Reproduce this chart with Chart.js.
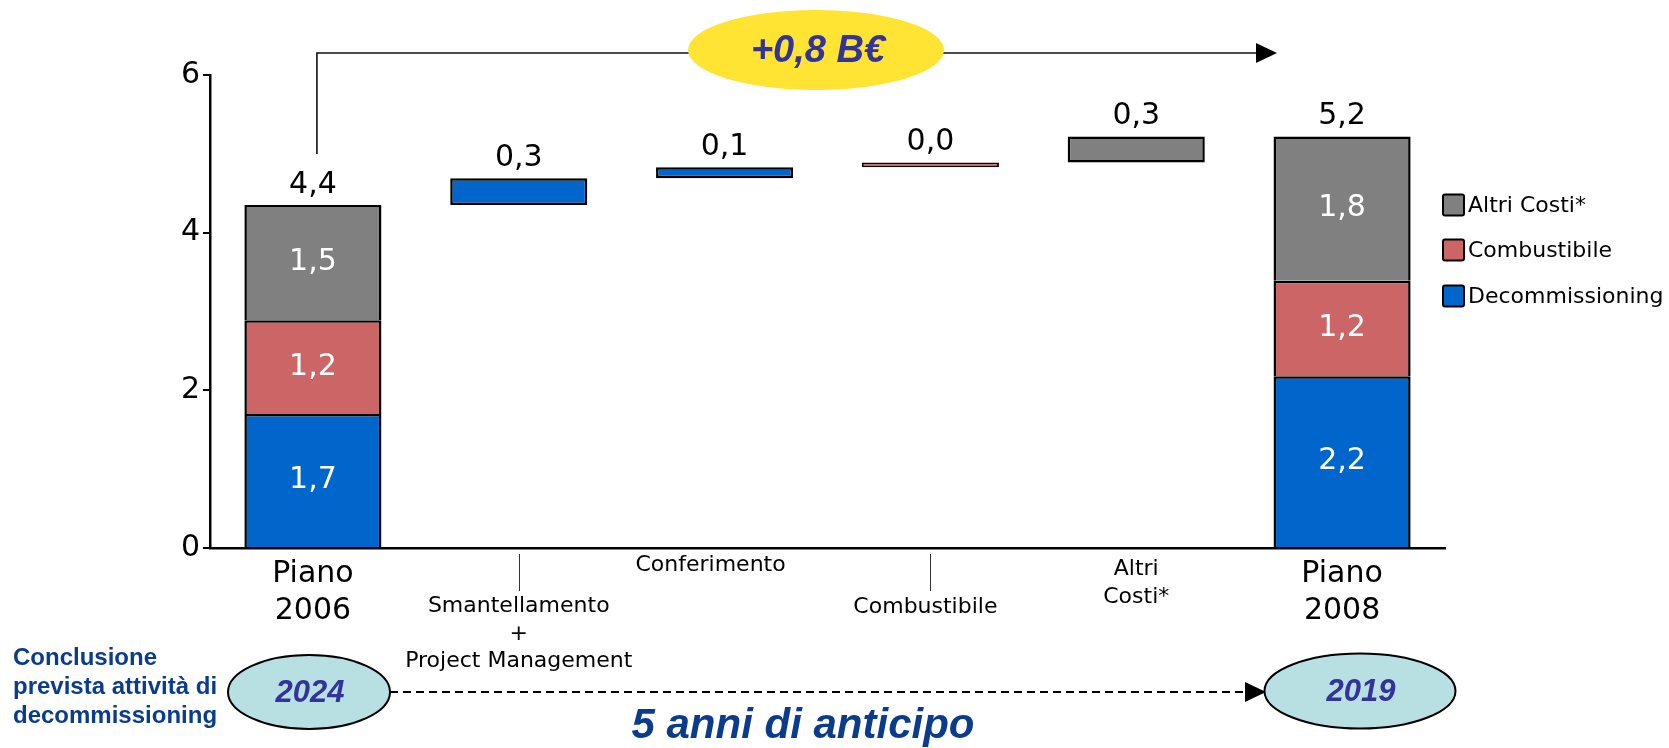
<!DOCTYPE html>
<html><head><meta charset="utf-8">
<script src="https://cdn.jsdelivr.net/npm/chart.js@4.4.0/dist/chart.umd.min.js"></script>
<style>html,body{margin:0;padding:0;background:#fff;}#wrap{width:1669px;height:748px;position:relative;}</style>
</head><body><div id="wrap"><canvas id="c" width="1669" height="748"></canvas></div>
<script>
// ---- data ----
const categories = [['Piano','2006'], ['Smantellamento','+','Project Management'], ['Conferimento'], ['Combustibile'], ['Altri','Costi*'], ['Piano','2008']];
const seriesNames = ['Decommissioning', 'Combustibile', 'Altri Costi*'];
const plan2006 = [1.70, 1.19, 1.46];          // Decommissioning, Combustibile, Altri Costi*
const plan2008 = [2.18, 1.21, 1.83];
const steps = [0.34, 0.14, 0.06, 0.33];       // waterfall deltas (categories 1..4)
const stepSeries = [0, 0, 1, 2];              // which series each delta belongs to
const totalLabels = ['4,4', '0,3', '0,1', '0,0', '0,3', '5,2'];
const segLabels2006 = ['1,7', '1,2', '1,5'];
const segLabels2008 = ['2,2', '1,2', '1,8'];
const yTicks = [0, 2, 4, 6];

const colors = ['#0066CC', '#CC6666', '#808080'];

// ---- build datasets ----
const n = categories.length;
const base = new Array(n).fill(null);
let run = plan2006.reduce((a, b) => a + b, 0);
const seriesData = seriesNames.map(() => new Array(n).fill(null));
seriesNames.forEach((s, k) => { seriesData[k][0] = plan2006[k]; seriesData[k][n - 1] = plan2008[k]; });
steps.forEach((v, j) => {
  base[j + 1] = run;
  seriesData[stepSeries[j]][j + 1] = v;
  run += v;
});
const isPlan = i => i === 0 || i === n - 1;

const datasets = [{
  label: 'base', data: base, backgroundColor: 'rgba(0,0,0,0)', borderWidth: 0, stack: 's'
}].concat(seriesNames.map((s, k) => ({
  label: s, data: seriesData[k], backgroundColor: colors[k], borderColor: '#000',
  borderWidth: ctx => (ctx.dataIndex === 3 ? 1.8 : 2.5), stack: 's',
  borderSkipped: ctx => isPlan(ctx.dataIndex) ? 'start' : false
})));

const FONT = '"DejaVu Sans", Verdana, sans-serif';
const ARIAL = '"Liberation Sans", Arial, sans-serif';

const annot = {
  id: 'annot',
  afterDatasetsDraw(chart) {
    const ctx = chart.ctx;
    ctx.save();
    ctx.textAlign = 'center'; ctx.textBaseline = 'middle';
    for (let i = 0; i < n; i++) {
      let top = Infinity, topX = 0;
      for (let d = 1; d <= 3; d++) {
        if (chart.data.datasets[d].data[i] == null) continue;
        const el = chart.getDatasetMeta(d).data[i];
        if (el.y < top) { top = el.y; topX = el.x; }
        if (isPlan(i)) {
          const lbl = (i === 0 ? segLabels2006 : segLabels2008)[d - 1];
          ctx.fillStyle = '#fff'; ctx.font = '30px ' + FONT;
          ctx.fillText(lbl, el.x, (el.y + el.base) / 2);
        }
      }
      ctx.fillStyle = '#000'; ctx.font = '30px ' + FONT;
      ctx.fillText(totalLabels[i], topX, top - 20);
    }
    ctx.restore();
  },
  afterDraw(chart) {
    const ctx = chart.ctx, xs = chart.scales.x;
    ctx.save();
    // category labels (staggered)
    const layout = [
      {f: 30, ys: [574, 611], dx: 0},
      {f: 22, ys: [606, 634, 661], dx: 0, tick: true},
      {f: 22, ys: [565], dx: -14},
      {f: 22, ys: [607], dx: -5, tick: true},
      {f: 22, ys: [569, 597], dx: 0},
      {f: 30, ys: [574, 611], dx: 0}
    ];
    ctx.textAlign = 'center'; ctx.textBaseline = 'middle'; ctx.fillStyle = '#000';
    categories.forEach((lines, i) => {
      const L = layout[i], x = xs.getPixelForValue(i);
      ctx.font = L.f + 'px ' + FONT;
      lines.forEach((t, k) => ctx.fillText(t, x + L.dx, L.ys[k]));
      if (L.tick) {
        ctx.strokeStyle = '#333'; ctx.lineWidth = 1;
        ctx.beginPath(); ctx.moveTo(Math.round(x) + 0.5, 554); ctx.lineTo(Math.round(x) + 0.5, 591); ctx.stroke();
      }
    });
    // legend
    const legY = [296, 250, 205];
    ctx.textAlign = 'left'; ctx.font = '22px ' + FONT;
    seriesNames.forEach((s, k) => {
      const y = legY[k];
      ctx.fillStyle = colors[k]; ctx.strokeStyle = '#000'; ctx.lineWidth = 2;
      ctx.beginPath(); ctx.roundRect(1443, y - 10.5, 21, 21, 2); ctx.fill(); ctx.stroke();
      ctx.fillStyle = '#000'; ctx.fillText(s, 1468, y + 1);
    });
    // top connector arrow
    const x0 = xs.getPixelForValue(0) + 4;
    ctx.strokeStyle = '#111'; ctx.lineWidth = 1.6; ctx.setLineDash([]);
    ctx.beginPath(); ctx.moveTo(x0, 154); ctx.lineTo(x0, 53); ctx.lineTo(1257, 53); ctx.stroke();
    ctx.fillStyle = '#000';
    ctx.beginPath(); ctx.moveTo(1256, 43); ctx.lineTo(1277, 53); ctx.lineTo(1256, 63); ctx.closePath(); ctx.fill();
    ctx.fillStyle = '#FFE433';
    ctx.beginPath(); ctx.ellipse(816, 50, 128, 40, 0, 0, Math.PI * 2); ctx.fill();
    ctx.fillStyle = '#333399'; ctx.font = 'italic bold 38px ' + ARIAL; ctx.textAlign = 'center'; ctx.textBaseline = 'middle';
    ctx.fillText('+0,8 B€', 818, 52);
    // bottom dashed arrow
    ctx.strokeStyle = '#000'; ctx.lineWidth = 2; ctx.setLineDash([8, 5]);
    ctx.beginPath(); ctx.moveTo(390, 692); ctx.lineTo(1246, 692); ctx.stroke();
    ctx.setLineDash([]);
    ctx.fillStyle = '#000';
    ctx.beginPath(); ctx.moveTo(1245, 682); ctx.lineTo(1266, 692); ctx.lineTo(1245, 702); ctx.closePath(); ctx.fill();
    // year ellipses
    [[309, 692, 81, 37, '2024'], [1360, 691, 95.5, 37.5, '2019']].forEach(([cx, cy, rx, ry, t]) => {
      ctx.fillStyle = '#B8E0E3'; ctx.strokeStyle = '#000'; ctx.lineWidth = 2;
      ctx.beginPath(); ctx.ellipse(cx, cy, rx, ry, 0, 0, Math.PI * 2); ctx.fill(); ctx.stroke();
      ctx.fillStyle = '#333399'; ctx.font = 'italic bold 31px ' + ARIAL; ctx.textAlign = 'center'; ctx.textBaseline = 'middle';
      ctx.fillText(t, cx + 1, cy + 1);
    });
    // left caption
    ctx.fillStyle = '#0B3C8C'; ctx.font = 'bold 24px ' + ARIAL; ctx.textAlign = 'left'; ctx.textBaseline = 'middle';
    ['Conclusione', 'prevista attività di', 'decommissioning'].forEach((t, k) => ctx.fillText(t, 13, 658 + k * 29));
    // bottom caption
    ctx.font = 'italic bold 42px ' + ARIAL; ctx.textAlign = 'center'; ctx.textBaseline = 'alphabetic';
    ctx.fillText('5 anni di anticipo', 803, 738);
    ctx.restore();
  }
};

new Chart(document.getElementById('c'), {
  type: 'bar',
  data: { labels: categories.map(c => c.join(' ')), datasets },
  options: {
    responsive: false, maintainAspectRatio: false, devicePixelRatio: 1, animation: false,
    layout: { padding: { left: 0, right: 224, top: 75, bottom: 0 } },
    plugins: { legend: { display: false }, tooltip: { enabled: false } },
    datasets: { bar: { categoryPercentage: 1, barPercentage: 0.666 } },
    scales: {
      x: {
        stacked: true,
        grid: { display: false },
        border: { display: true, color: '#000', width: 2.5 },
        ticks: { display: false },
        afterFit: s => { s.height = 200; }
      },
      y: {
        stacked: true, min: 0, max: 6,
        afterBuildTicks: s => { s.ticks = yTicks.map(v => ({ value: v })); },
        ticks: { color: '#000', font: { family: FONT, size: 30 }, padding: 3, stepSize: 2 },
        grid: { drawOnChartArea: false, drawTicks: true, tickLength: 7, color: '#000', lineWidth: 2 },
        border: { display: true, color: '#000', width: 2.5 },
        afterFit: s => { s.width = 210; }
      }
    }
  },
  plugins: [annot]
});
</script></body></html>
